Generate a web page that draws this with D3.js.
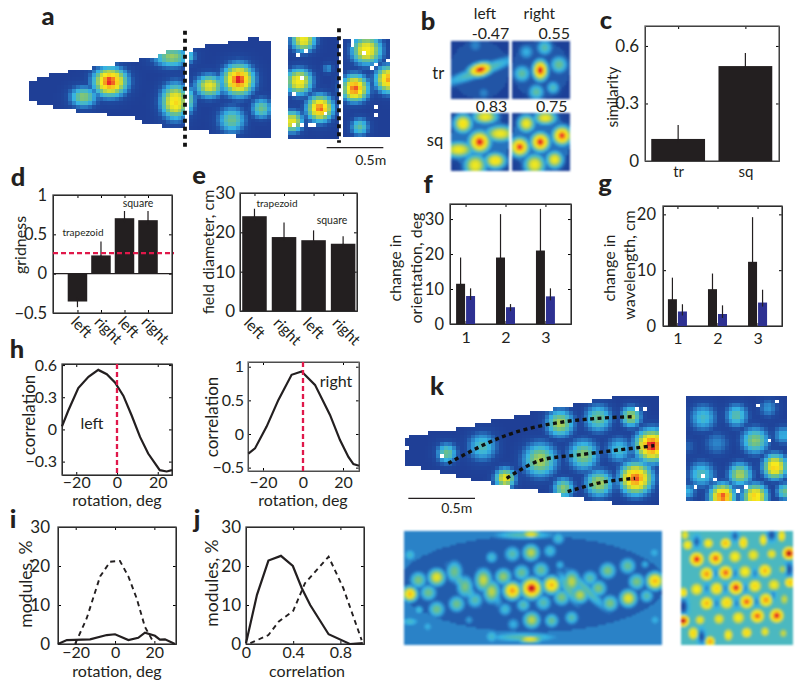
<!DOCTYPE html>
<html>
<head>
<meta charset="utf-8">
<script src="https://cdn.jsdelivr.net/npm/d3@7"></script>
<style>
  body { margin: 0; background: #fff; }
  svg { display: block; font-family: Lato, "Open Sans", sans-serif; fill: #231f20; }
</style>
</head>
<body>
<div id="figure"></div>
<script>
// Bar values
var gridLabels = ['left', 'right', 'left', 'right'];
var similarityCats = ['tr', 'sq'];
var similarityVals = [0.115, 0.495];
var similarityErr = [0.188, 0.563];
var gridnessVals = [-0.354, 0.232, 0.705, 0.68];
var gridnessErr = [-0.426, 0.41, 0.797, 0.797];
var gridnessCut = 0.26;
var diameterVals = [24.1, 18.8, 18, 17.1];
var diameterErr = [26, 22.5, 20.5, 19];
var moduleCats = [1, 2, 3];
var orientTr = [11.5, 19, 21];
var orientTrErr = [19, 31.4, 32.9];
var orientSq = [8, 4.8, 7.9];
var orientSqErr = [10.2, 5.7, 10.2];
var waveTr = [4.8, 6.6, 11.5];
var waveTrErr = [8.66, 9.4, 19.5];
var waveSq = [2.6, 2.15, 4.2];
var waveSqErr = [3.9, 3.7, 6.5];

// Curves, [x, y] in axis units
var rotLeft = [[-27,0.028],[-23.9,0.176],[-19,0.386],[-14,0.491],[-9.2,0.555],[-5,0.515],[-1,0.438],[3.1,0.315],[7.2,0.13],[11.3,-0.07],[15.3,-0.225],[21,-0.38],[24.4,-0.392],[27,-0.38]];
var rotRight = [[-27.3,-0.29],[-24,-0.214],[-18.2,0.11],[-12.3,0.507],[-5.7,0.88],[-0.7,0.93],[6,0.73],[13.5,0.284],[18.5,-0.09],[22.7,-0.34],[25.2,-0.448],[28,-0.473]];
var modRotSolid = [[-29,0],[-24.5,1],[-12.7,1.2],[-4.2,2.3],[0,2.5],[6.8,1],[11.8,1.6],[15.2,2.9],[20.3,2.1],[22.8,1.1],[25.4,1.2],[30.5,0]];
var modRotDash = [[-20.3,0],[-14.4,6.6],[-7.6,17.3],[-2.5,21.1],[2.5,21.3],[6.8,17.3],[11,11.7],[15.2,4.4],[19.4,0.6]];
var modCorSolid = [[0,0.2],[0.093,12.6],[0.19,21.4],[0.296,22.6],[0.397,20],[0.473,14.3],[0.544,10],[0.7,2.5],[0.88,0],[0.99,0.2]];
var modCorDash = [[0.037,0.2],[0.19,2.3],[0.276,5.7],[0.4,8.5],[0.5,15.6],[0.7,22.4],[0.825,14.3],[0.98,1]];

// Rate map firing fields: [x, y, peak, sigmaX, sigmaY, angle], in map units
var aEdgeTop = [[88,250],[120,232],[230,210],[295,200],[415,180],[465,170],[500,155],[570,155],[630,135],[700,125],[760,112],[803,125]];
var aEdgeBottom = [[88,300],[130,315],[250,335],[390,350],[445,372],[520,385],[570,385],[660,405],[803,415]];
var aFields = [[330,245,0.98,28,24],[250,290,0.5,24,18],[525,305,0.78,24,30],[515,170,0.52,32,18],[715,240,1,26,26],[628,258,0.68,24,20],[695,360,0.45,24,24],[785,325,0.45,18,18],[570,300,0.4,10,25],[570,170,0.35,10,12]];
var aSquareFields = [[910,120,0.72,20,20],[897,245,0.75,22,22],[960,325,0.95,22,22],[877,365,0.7,18,18],[985,205,0.25,10,10],[1100,150,0.75,25,25],[1065,265,0.95,22,22],[1165,238,0.88,22,22],[1080,380,0.42,16,16]];
var aSquareHoles = [[893,163],[912,155],[908,235],[885,287],[978,337],[885,375],[925,380],[905,380],[945,378],[880,378],[1058,125],[1058,138],[1097,155],[1118,208],[1130,195],[1133,320],[1133,340],[1165,178]];
var aCuts = [[555,92,440],[1017,85,428]];

var bTrLeft = [[240,212,0.42,75,11,-20],[240,208,1.02,20,11,-15],[225,135,0.22,14,14],[250,278,0.22,12,12]];
var bTrRight = [[422,210,1.02,12,16],[380,155,0.3,14,14],[435,142,0.4,14,14],[478,193,0.45,15,15],[367,220,0.42,15,15],[460,262,0.38,12,12],[410,275,0.42,14,14]];
var bSqLeft = [[238,427,1,17,17],[300,402,0.72,24,13],[175,450,0.72,24,13],[188,372,0.78,15,15],[255,352,0.72,20,11],[225,497,0.72,18,18],[285,483,0.78,17,13]];
var bSqRight = [[422,427,1,15,15],[487,408,0.98,15,15],[360,442,0.98,15,15],[380,372,0.72,14,14],[437,355,0.72,18,11],[405,495,0.72,17,17],[465,480,0.72,14,14]];
var bScores = ['-0.47', '0.55', '0.83', '0.75'];

var kEdgeTop = [[30,188],[90,175],[160,165],[210,155],[280,140],[350,128],[395,115],[460,105],[530,92],[585,80],[635,70],[705,58],[787,58]];
var kEdgeBottom = [[30,268],[80,280],[135,290],[195,305],[255,318],[315,330],[375,342],[460,352],[530,365],[600,378],[685,388],[787,388]];
var kFields = [[155,235,0.45,18,18],[262,215,0.38,26,26],[495,145,0.55,24,24],[610,130,0.45,24,24],[708,125,0.55,18,18],[770,212,1,27,27],[672,225,0.35,24,24],[565,240,0.5,27,27],[435,255,0.55,30,30],[330,310,0.7,18,18],[505,340,0.5,18,18],[612,325,0.55,24,24],[722,310,0.95,27,27]];
var kHoles = [[35,215],[143,238],[730,98],[745,98]];
var kPaths = [
  [[160,265],[265,210],[360,172],[490,143],[610,130],[715,125]],
  [[335,310],[430,258],[565,238],[670,225],[778,212]],
  [[518,350],[620,322],[720,310]]
];
var kSquareFields = [[925,128,0.35,24,24],[1025,122,0.4,21,21],[1120,100,0.25,18,18],[1080,197,0.5,24,24],[1165,180,0.3,18,18],[965,205,0.22,24,24],[880,215,0.15,18,18],[1140,275,0.8,21,21],[1035,298,0.55,21,21],[920,298,0.38,24,24],[982,365,0.95,21,21],[1080,365,0.8,21,21],[1170,350,0.45,15,15],[880,350,0.3,15,15]];
var kSquareHoles = [[1083,95],[1142,85],[1122,193],[925,300],[965,312],[905,332],[1052,332],[1035,352]];

var kModelFields = [[45,222,0.85,13,13],[410,205,1.05,17,17],[352,212,0.9,15,15],[470,195,0.85,15,15],[780,183,0.85,15,15],[125,172,0.68,15,15],[70,180,0.48,15,15],[100,218,0.46,15,15],[178,155,0.46,15,20],[210,200,0.48,15,20],[265,180,0.6,15,20],[290,215,0.58,15,20],[325,170,0.52,15,15],[380,158,0.44,15,15],[438,150,0.44,15,15],[240,240,0.4,15,15],[185,252,0.46,15,15],[125,268,0.46,15,15],[72,270,0.35,9,9],[385,255,0.4,13,13],[330,268,0.35,13,13],[445,248,0.4,15,15],[500,232,0.48,15,15],[530,185,0.58,15,20],[555,225,0.58,15,15],[585,175,0.4,15,15],[610,205,0.48,15,15],[645,250,0.48,15,15],[638,152,0.48,15,15],[698,138,0.44,15,15],[750,133,0.3,9,9],[700,235,0.68,15,15],[725,185,0.48,15,15],[755,228,0.4,13,13],[290,112,0.35,12,12],[352,102,0.4,15,15],[408,98,0.58,15,15],[465,93,0.35,13,13],[495,135,0.3,10,10],[410,300,0.58,15,15],[470,302,0.44,13,13],[530,293,0.4,13,13],[355,313,0.3,13,13],[222,300,0.26,10,10],[98,320,0.3,12,12],[45,305,0.35,20,10],[780,300,0.3,13,13],[778,98,0.3,13,13],[45,105,0.35,13,13],[385,45,0.4,65,9],[408,43,0.7,18,7],[385,352,0.4,75,10],[405,358,0.7,22,7],[490,55,0.35,13,13],[290,350,0.35,14,14],[205,195,0.4,50,12,52],[285,205,0.4,42,12,60],[575,210,0.4,58,11,45],[520,205,0.42,38,12,60]];
var kLatticeFields = [[905,118,1,12,12],[962,115,0.95,12,12],[1020,110,0.75,12,12],[1075,105,0.7,12,12],[1130,102,0.7,10,10],[1182,100,1.08,11,11],[935,162,0.9,12,12],[992,158,0.95,12,12],[1050,155,0.75,12,12],[1110,152,0.85,12,12],[1165,148,0.6,10,10],[905,208,0.75,12,12],[965,206,0.8,12,12],[1023,203,1,12,12],[1080,198,0.8,12,12],[1137,195,0.72,12,12],[1185,187,0.85,10,10],[935,250,0.85,12,12],[995,248,0.8,12,12],[1055,245,0.95,12,12],[1113,240,0.9,12,12],[1168,238,0.6,9,12],[865,218,0.8,8,10],[915,300,0.7,10,10],[972,297,0.7,11,11],[1030,293,0.75,12,12],[1087,288,0.95,12,12],[1145,287,1,12,12],[865,302,1.08,10,10],[878,75,0.75,10,10],[940,70,0.75,10,10],[992,70,0.85,10,10],[1045,68,0.8,9,12],[1105,60,0.75,8,12],[1160,48,0.75,8,12],[870,45,0.7,8,10],[895,340,0.8,10,12],[945,365,0.9,9,10],[1000,345,0.75,9,12],[1055,338,0.8,10,10],[1110,335,0.7,9,10],[1165,340,0.6,9,10]];
var kLatticeDips = [[865,260,-0.3,6,11],[1182,148,-0.26,6,10],[920,350,-0.26,5,10],[1130,45,-0.26,6,8],[1020,48,-0.22,5,7],[905,65,-0.22,5,8],[1135,225,-0.14,4,7],[1080,160,-0.14,4,7],[1020,160,-0.14,4,7],[960,160,-0.14,4,7],[990,205,-0.14,4,7],[935,205,-0.14,4,7],[1050,205,-0.14,4,7],[965,250,-0.14,4,7],[1025,250,-0.14,4,7],[1085,245,-0.14,4,7]];

var width = 800, height = 684;
var ink = '#231f20', barBlue = '#2e3192', cutRed = '#e0184a';
var fmt = d3.format('~g');

var svg = d3.select('#figure').append('svg')
  .attr('width', width)
  .attr('height', height)
  .attr('viewBox', '0 0 ' + width + ' ' + height);

svg.append('defs').append('filter').attr('id', 'soft')
  .attr('x', '-5%').attr('y', '-5%').attr('width', '110%').attr('height', '110%')
  .append('feGaussianBlur').attr('stdDeviation', 0.8);

// Jet as it comes out of the journal's print colours
var jet = d3.scaleLinear()
  .domain([0, 0.1, 0.2, 0.3, 0.45, 0.6, 0.74, 0.9, 0.97, 1.1])
  .range(['#1f3f96', '#1f4a9f', '#2a7cc4', '#35b3e4', '#6cc08a', '#cfd935', '#f8ec1c', '#f6941e', '#e9202a', '#8c1015'])
  .clamp(true);

function fieldValue(f, mx, my, spread) {
  var a = (f[5] || 0) * Math.PI / 180;
  var dx = mx - f[0], dy = my - f[1];
  var u = dx * Math.cos(a) + dy * Math.sin(a);
  var v = -dx * Math.sin(a) + dy * Math.cos(a);
  var su = f[3] * spread, sv = f[4] * spread;
  return f[2] * Math.exp(-(u * u) / (2 * su * su) - (v * v) / (2 * sv * sv));
}

// One heat map: cells are sampled from the fields, then masked by the edges
function drawMap(o) {
  var x = o.x, y = o.y;
  var spread = o.spread || 1;
  var px0 = x(o.box[0]), px1 = x(o.box[1]);
  var py0 = y(o.box[2]), py1 = y(o.box[3]);
  var top = o.top ? d3.scaleLinear().domain(o.top.map(function(d) { return d[0]; })).range(o.top.map(function(d) { return d[1]; })) : null;
  var bottom = o.bottom ? d3.scaleLinear().domain(o.bottom.map(function(d) { return d[0]; })).range(o.bottom.map(function(d) { return d[1]; })) : null;
  var cells = [];
  d3.range(px0, px1 - 0.5, o.cell).forEach(function(cx) {
    d3.range(py0, py1 - 0.5, o.cell).forEach(function(cy) {
      var mx = x.invert(cx + o.cell / 2), my = y.invert(cy + o.cell / 2);
      if (top && (my < top(mx) || my > bottom(mx))) return;
      var near = (o.holes || []).some(function(h) {
        return Math.abs(h[0] - mx) < 6 && Math.abs(h[1] - my) < 6;
      });
      if (near) return;
      var base = o.base || 0;
      if (o.oval) {
        var ox = (mx - o.oval[0]) / o.oval[2], oy = (my - o.oval[1]) / o.oval[3];
        if (ox * ox + oy * oy < 1) base = o.oval[4];
      }
      var val = base, dip = 0;
      o.fields.forEach(function(f) {
        var g = fieldValue(f, mx, my, spread);
        if (f[2] < 0) dip += g; else val = Math.max(val, g);
      });
      cells.push({ x: cx, y: cy, v: val + dip });
    });
  });
  svg.append('g')
    .attr('filter', o.soft ? 'url(#soft)' : null)
    .attr('shape-rendering', 'crispEdges')
    .selectAll('rect').data(cells).enter().append('rect')
    .attr('x', function(d) { return d.x; })
    .attr('y', function(d) { return d.y; })
    .attr('width', o.cell + 0.1)
    .attr('height', o.cell + 0.1)
    .attr('fill', function(d) { return jet(d.v); });
}

function label(txt, x, y, size, anchor, rotate) {
  var t = svg.append('text')
    .attr('font-size', size)
    .attr('text-anchor', anchor || 'middle')
    .text(txt);
  if (rotate) t.attr('transform', 'translate(' + x + ',' + y + ') rotate(' + rotate + ')');
  else t.attr('x', x).attr('y', y);
  return t;
}

// Matlab style box with ticks pointing in on all four sides
function frame(o) {
  var x = d3.scaleLinear().domain(o.xDomain).range([o.left, o.right]);
  var y = d3.scaleLinear().domain(o.yDomain).range([o.bottom, o.top]);
  var fontY = o.fontY || 16.5, fontX = o.fontX || 16;
  var tick = 3;

  var xAxis = d3.axisBottom(x).tickValues(o.xTicks).tickSizeInner(-tick).tickSizeOuter(0).tickPadding(o.xPad || 8)
    .tickFormat(o.xFmt || fmt);
  var yAxis = d3.axisLeft(y).tickValues(o.yTicks).tickSizeInner(-tick).tickSizeOuter(0).tickPadding(o.yPad || 5)
    .tickFormat(fmt);

  var gx = svg.append('g').attr('transform', 'translate(0,' + o.bottom + ')').call(xAxis);
  var gy = svg.append('g').attr('transform', 'translate(' + o.left + ',0)').call(yAxis);
  svg.append('g').attr('transform', 'translate(0,' + o.top + ')')
    .call(d3.axisTop(x).tickValues(o.xTicks).tickSizeInner(-tick).tickSizeOuter(0).tickFormat(''));
  svg.append('g').attr('transform', 'translate(' + o.right + ',0)')
    .call(d3.axisRight(y).tickValues(o.yTicks).tickSizeInner(-tick).tickSizeOuter(0).tickFormat(''));

  gx.selectAll('text').attr('font-size', fontX).attr('font-family', 'Lato').attr('fill', ink);
  gy.selectAll('text').attr('font-size', fontY).attr('font-family', 'Lato').attr('fill', ink);

  svg.append('rect')
    .attr('x', o.left).attr('y', o.top)
    .attr('width', o.right - o.left).attr('height', o.bottom - o.top)
    .attr('fill', 'none')
    .attr('stroke', o.stroke || '#444')
    .attr('stroke-width', 1.3);
  return { x: x, y: y, gx: gx };
}

function bars(f, cats, vals, errs, barW, offset, color) {
  var zero = f.y(0);
  svg.append('g').selectAll('line').data(cats).enter().append('line')
    .attr('x1', function(d) { return f.x(d + offset); })
    .attr('x2', function(d) { return f.x(d + offset); })
    .attr('y1', zero)
    .attr('y2', function(d, i) { return f.y(errs[i]); })
    .attr('stroke', ink)
    .attr('stroke-width', 1.2);
  svg.append('g').selectAll('rect').data(cats).enter().append('rect')
    .attr('x', function(d) { return f.x(d + offset - barW / 2); })
    .attr('y', function(d, i) { return Math.min(f.y(vals[i]), zero); })
    .attr('width', f.x(barW) - f.x(0))
    .attr('height', function(d, i) { return Math.abs(f.y(vals[i]) - zero); })
    .attr('fill', color);
  // the part of the whisker inside the bar shows faintly on the print
  svg.append('g').selectAll('line').data(cats).enter().append('line')
    .attr('x1', function(d) { return f.x(d + offset); })
    .attr('x2', function(d) { return f.x(d + offset); })
    .attr('y1', function(d, i) { return f.y(vals[i]); })
    .attr('y2', function(d, i) { return f.y(vals[i]) + (vals[i] < 0 ? -4 : 4); })
    .attr('stroke', ink)
    .attr('stroke-width', 1.2);
}

function curve(f, pts, dash) {
  var line = d3.line()
    .curve(d3.curveLinear)
    .x(function(d) { return f.x(d[0]); })
    .y(function(d) { return f.y(d[1]); });
  svg.append('path').datum(pts)
    .attr('d', line)
    .attr('fill', 'none')
    .attr('stroke', ink)
    .attr('stroke-width', dash ? 1.9 : 2.2)
    .attr('stroke-dasharray', dash ? '5,4' : null);
}

function redLine(x1, y1, x2, y2) {
  svg.append('line')
    .attr('x1', x1).attr('y1', y1).attr('x2', x2).attr('y2', y2)
    .attr('stroke', cutRed)
    .attr('stroke-width', 2.3)
    .attr('stroke-dasharray', '5,3');
}

function slanted(f, labels, dx, dy) {
  f.gx.selectAll('text')
    .attr('text-anchor', 'start')
    .attr('y', 0).attr('dy', 0)
    .attr('transform', 'translate(' + dx + ',' + dy + ') rotate(45)')
    .text(function(d) { return labels[d - 1]; });
}

// Panel a: trapezoid and square room, split at the dashed lines
var ax = d3.scaleLinear().domain([0, 1200]).range([0, 400]);
var ay = d3.scaleLinear().domain([0, 510]).range([0, 170]);
drawMap({ x: ax, y: ay, box: [88, 552, 150, 390], cell: 3.9, spread: 1.2, fields: aFields, top: aEdgeTop, bottom: aEdgeBottom });
drawMap({ x: ax, y: ay, box: [567, 803, 110, 415], cell: 3.9, spread: 1.2, fields: aFields, top: aEdgeTop, bottom: aEdgeBottom });
drawMap({ x: ax, y: ay, box: [865, 1012, 112, 412], cell: 3.9, spread: 1.2, fields: aSquareFields, holes: aSquareHoles });
drawMap({ x: ax, y: ay, box: [1028, 1166, 117, 410], cell: 3.9, spread: 1.2, fields: aSquareFields, holes: aSquareHoles });

svg.append('g').selectAll('line').data(aCuts).enter().append('line')
  .attr('x1', function(d) { return ax(d[0]); })
  .attr('x2', function(d) { return ax(d[0]); })
  .attr('y1', function(d) { return ay(d[1]); })
  .attr('y2', function(d) { return ay(d[2]); })
  .attr('stroke', '#111')
  .attr('stroke-width', 3.8)
  .attr('stroke-dasharray', '4,4');

svg.append('line').attr('x1', ax(980)).attr('x2', ax(1150)).attr('y1', ay(443)).attr('y2', ay(443))
  .attr('stroke', ink).attr('stroke-width', 1.3);
label('0.5m', ax(1112), ay(494), 14);

// Panel b: autocorrelograms
var bx = d3.scaleLinear().domain([0, 1200]).range([400, 800]);
var by = d3.scaleLinear().domain([0, 513]).range([0, 171]);
drawMap({ x: bx, y: by, box: [152, 325, 122, 295], cell: 2, spread: 1.3, fields: bTrLeft, base: 0.02, oval: [238, 208, 88, 88, 0.12], soft: true });
drawMap({ x: bx, y: by, box: [337, 510, 122, 295], cell: 2, spread: 1.3, fields: bTrRight, base: 0.02, oval: [423, 208, 86, 86, 0.13], soft: true });
drawMap({ x: bx, y: by, box: [152, 325, 340, 513], cell: 2, spread: 1.3, fields: bSqLeft, base: 0.02, oval: [238, 427, 88, 88, 0.18], soft: true });
drawMap({ x: bx, y: by, box: [337, 510, 340, 513], cell: 2, spread: 1.3, fields: bSqRight, base: 0.02, oval: [423, 427, 88, 88, 0.18], soft: true });
label('left', bx(255), by(58), 15.5);
label('right', bx(418), by(58), 15.5);
label(bScores[0], bx(328), by(116), 16, 'end');
label(bScores[1], bx(510), by(116), 16, 'end');
label(bScores[2], bx(322), by(335), 16, 'end');
label(bScores[3], bx(503), by(335), 16, 'end');
label('tr', bx(115), by(238), 16.5);
label('sq', bx(105), by(438), 16.5);

// Panel c
var fc = frame({
  left: 645, right: 779, top: 26, bottom: 161,
  xDomain: [0.507, 2.5], yDomain: [0, 0.704],
  xTicks: [1, 2], yTicks: [0, 0.3, 0.6],
  xFmt: function(d) { return similarityCats[d - 1]; },
  fontY: 17, fontX: 15, xPad: 5, yPad: 6, stroke: '#666'
});
bars(fc, [1, 2], similarityVals, similarityErr, 0.8, 0, ink);
label('similarity', 618, 97, 15.5, 'middle', -90);

// Panel d
var fd = frame({
  left: 53, right: 172, top: 195, bottom: 313,
  xDomain: [-0.04, 5.02], yDomain: [-0.5, 1],
  xTicks: [1, 2, 3, 4], yTicks: [-0.5, 0, 0.5, 1],
  fontX: 15.5, yPad: 6
});
slanted(fd, gridLabels, -8, 10);
bars(fd, [1, 2, 3, 4], gridnessVals, gridnessErr, 0.83, 0, ink);
svg.append('line').attr('x1', fd.x.range()[0]).attr('x2', fd.x.range()[1]).attr('y1', fd.y(0)).attr('y2', fd.y(0))
  .attr('stroke', ink).attr('stroke-width', 1.2);
redLine(53, fd.y(gridnessCut), 174, fd.y(gridnessCut));
label('trapezoid', 83, 236, 10);
label('square', 138, 207, 10.5);
label('gridness', 26, 245, 16, 'middle', -90);

// Panel e
var fe = frame({
  left: 240, right: 357, top: 193, bottom: 311,
  xDomain: [0.51, 4.47], yDomain: [0, 30],
  xTicks: [1, 2, 3, 4], yTicks: [0, 10, 20, 30],
  fontX: 15.5, fontY: 17, yPad: 5
});
slanted(fe, gridLabels, -12, 13);
bars(fe, [1, 2, 3, 4], diameterVals, diameterErr, 0.83, 0, ink);
label('trapezoid', 277, 207, 10);
label('square', 332, 224, 10.5);
label('field diameter, cm', 214, 252, 16, 'middle', -90);

// Panel f
var ff = frame({
  left: 450, right: 571, top: 204, bottom: 324,
  xDomain: [0.61, 3.64], yDomain: [0, 34.3],
  xTicks: moduleCats, yTicks: [0, 10, 20, 30],
  fontX: 16, fontY: 16.5, xPad: 8, yPad: 6
});
bars(ff, moduleCats, orientTr, orientTrErr, 0.225, -0.125, ink);
bars(ff, moduleCats, orientSq, orientSqErr, 0.225, 0.125, barBlue);
label('change in', 401, 268, 16, 'middle', -90);
label('orientation, deg', 422, 268, 16, 'middle', -90);

// Panel g
var fg = frame({
  left: 663, right: 782, top: 206, bottom: 326,
  xDomain: [0.64, 3.61], yDomain: [0, 21.5],
  xTicks: moduleCats, yTicks: [0, 10, 20],
  fontX: 16, fontY: 16.5, xPad: 7, yPad: 7
});
bars(fg, moduleCats, waveTr, waveTrErr, 0.225, -0.125, ink);
bars(fg, moduleCats, waveSq, waveSqErr, 0.225, 0.125, barBlue);
label('change in', 615, 268, 16, 'middle', -90);
label('wavelength, cm', 635, 265, 16, 'middle', -90);

// Panel h
var fh1 = frame({
  left: 62, right: 172, top: 364, bottom: 475,
  xDomain: [-27, 27], yDomain: [-0.425, 0.61],
  xTicks: [-20, 0, 20], yTicks: [-0.3, 0, 0.3, 0.6],
  fontX: 16, fontY: 16, yPad: 5, xPad: 2
});
curve(fh1, rotLeft);
redLine(fh1.x(0), 364, fh1.x(0), 475);
label('left', 92, 429, 16);
label('rotation, deg', 117, 506, 16);
label('correlation', 35, 415, 17, 'middle', -90);

var fh2 = frame({
  left: 248, right: 359, top: 362, bottom: 471,
  xDomain: [-27.5, 28], yDomain: [-0.55, 1.07],
  xTicks: [-20, 0, 20], yTicks: [-0.5, 0, 0.5, 1],
  fontX: 16, fontY: 16, yPad: 4, xPad: 6, stroke: '#777'
});
curve(fh2, rotRight);
redLine(fh2.x(0), 362, fh2.x(0), 471);
label('right', 336, 387, 16);
label('rotation, deg', 303, 506, 16);
label('correlation', 218, 417, 17, 'middle', -90);

// Panels i and j
var fi = frame({
  left: 58, right: 176, top: 527, bottom: 644,
  xDomain: [-29, 31], yDomain: [0, 30],
  xTicks: [-20, 0, 20], yTicks: [0, 10, 20, 30],
  fontX: 16, fontY: 17, yPad: 8, xPad: 3
});
curve(fi, modRotDash, true);
curve(fi, modRotSolid);
label('rotation, deg', 117, 677, 16);
label('modules, %', 32, 584, 17.5, 'middle', -90);

var fj = frame({
  left: 246, right: 364, top: 527, bottom: 644,
  xDomain: [0, 1], yDomain: [0, 30],
  xTicks: [0, 0.4, 0.8], yTicks: [0, 10, 20, 30],
  fontX: 16, fontY: 17, yPad: 5, xPad: 3
});
curve(fj, modCorDash, true);
curve(fj, modCorSolid);
label('correlation', 307, 677, 16);
label('modules, %', 218, 583, 17.5, 'middle', -90);

// Panel k: pixel maps with the fitted rows of fields
var kx = d3.scaleLinear().domain([0, 1215]).range([395, 800]);
var ky = d3.scaleLinear().domain([0, 450]).range([375, 525]);
drawMap({ x: kx, y: ky, box: [30, 787, 50, 392], cell: 3.9, spread: 1.2, fields: kFields, top: kEdgeTop, bottom: kEdgeBottom, holes: kHoles });
drawMap({ x: kx, y: ky, box: [872, 1177, 62, 375], cell: 3.9, spread: 1.2, fields: kSquareFields, holes: kSquareHoles });

var kLine = d3.line().curve(d3.curveCatmullRom)
  .x(function(d) { return kx(d[0]); })
  .y(function(d) { return ky(d[1]); });
svg.append('g').selectAll('path').data(kPaths).enter().append('path')
  .attr('d', kLine)
  .attr('fill', 'none')
  .attr('stroke', '#111')
  .attr('stroke-width', 3.4)
  .attr('stroke-dasharray', '4,3.5');

svg.append('line').attr('x1', kx(40)).attr('x2', kx(240)).attr('y1', ky(370)).attr('y2', ky(370))
  .attr('stroke', ink).attr('stroke-width', 1.3);
label('0.5m', kx(185), ky(415), 14);

// Model maps under panel k
var mx = d3.scaleLinear().domain([0, 1215]).range([395, 800]);
var my = d3.scaleLinear().domain([0, 390]).range([520, 650]);
drawMap({ x: mx, y: my, box: [27, 800, 33, 375], cell: 2, spread: 1.25, fields: kModelFields, base: 0.21, oval: [410, 192, 400, 145, 0.135], soft: true });
drawMap({ x: mx, y: my, box: [858, 1190, 33, 375], cell: 2, spread: 1.5, fields: kLatticeFields.concat(kLatticeDips), base: 0.36, soft: true });

// Panel letters
var letters = [['a', 48, 25], ['b', 428, 30], ['c', 606, 29], ['d', 18, 186], ['e', 199, 184], ['f', 428, 193], ['g', 605, 192], ['h', 17, 358], ['i', 13, 528], ['j', 197, 528], ['k', 437, 395]];
svg.append('g').selectAll('text').data(letters).enter().append('text')
  .attr('x', function(d) { return d[1]; })
  .attr('y', function(d) { return d[2]; })
  .attr('text-anchor', 'middle')
  .attr('font-size', 25.5)
  .attr('font-weight', 900)
  .text(function(d) { return d[0]; });
</script>
</body>
</html>
